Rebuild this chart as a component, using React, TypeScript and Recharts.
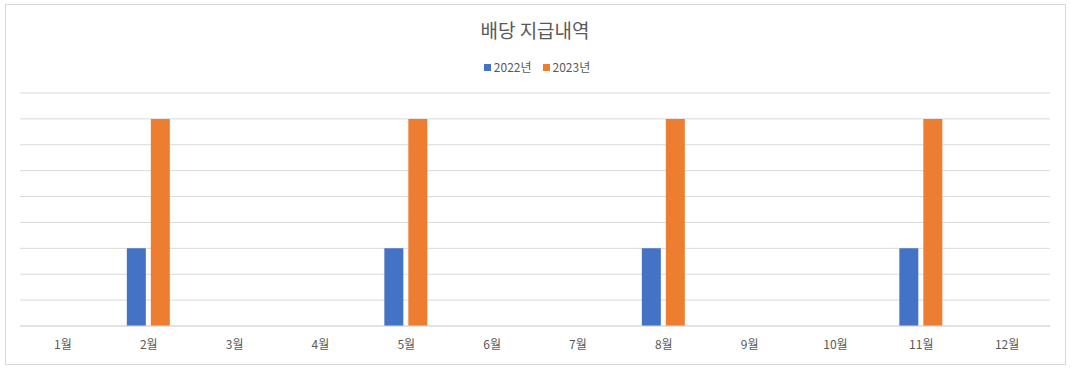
import { BarChart, Bar, XAxis, YAxis, CartesianGrid } from "recharts";

const months = ["1월", "2월", "3월", "4월", "5월", "6월", "7월", "8월", "9월", "10월", "11월", "12월"];
const div2022 = [0, 3, 0, 0, 3, 0, 0, 3, 0, 0, 3, 0];
const div2023 = [0, 8, 0, 0, 8, 0, 0, 8, 0, 0, 8, 0];
const yTicks = [0, 1, 2, 3, 4, 5, 6, 7, 8, 9];

const series = [
  { key: "y2022", name: "2022년", color: "#4472C4" },
  { key: "y2023", name: "2023년", color: "#ED7D31" },
];

const font = "'Noto Sans CJK KR', 'Noto Sans', sans-serif";

export default function App() {
  const data = months.map((m, i) => ({ month: m, y2022: div2022[i], y2023: div2023[i] }));

  return (
    <div style={{ position: "absolute", left: 0, top: 0, width: 1081, height: 371, background: "#fff", fontFamily: font }}>
      <div
        style={{
          position: "absolute",
          left: 5,
          top: 4,
          width: 1059,
          height: 359,
          border: "1px solid #d9d9d9",
        }}
      />
      <div
        style={{
          position: "absolute",
          left: 20,
          width: 1030,
          top: 17,
          textAlign: "center",
          fontSize: 19,
          color: "#595959",
          lineHeight: "26px",
        }}
      >
        배당 지급내역
      </div>
      <div
        style={{
          position: "absolute",
          left: 20,
          width: 1034,
          top: 58,
          display: "flex",
          justifyContent: "center",
          gap: 11,
          fontSize: 12,
          color: "#595959",
          lineHeight: "18px",
        }}
      >
        {series.map((s) => (
          <span key={s.key} style={{ display: "flex", alignItems: "center" }}>
            <span style={{ width: 7, height: 7, background: s.color, marginRight: 3, display: "inline-block" }} />
            {s.name}
          </span>
        ))}
      </div>
      <div style={{ position: "absolute", left: 0, top: 0 }}>
        <BarChart
          width={1081}
          height={371}
          data={data}
          margin={{ top: 93, right: 31, left: 20, bottom: 15 }}
          barGap={5}
          barSize={19}
        >
          <CartesianGrid vertical={false} stroke="#d9d9d9" />
          <XAxis
            dataKey="month"
            height={30}
            axisLine={{ stroke: "#d9d9d9" }}
            tickLine={false}
            tickSize={0}
            tickMargin={14}
            tick={{ fontSize: 12, fill: "#595959", fontFamily: font }}
            interval={0}
          />
          <YAxis hide domain={[0, 9]} ticks={yTicks} />
          {series.map((s) => (
            <Bar key={s.key} dataKey={s.key} name={s.name} fill={s.color} isAnimationActive={false} />
          ))}
        </BarChart>
      </div>
    </div>
  );
}
